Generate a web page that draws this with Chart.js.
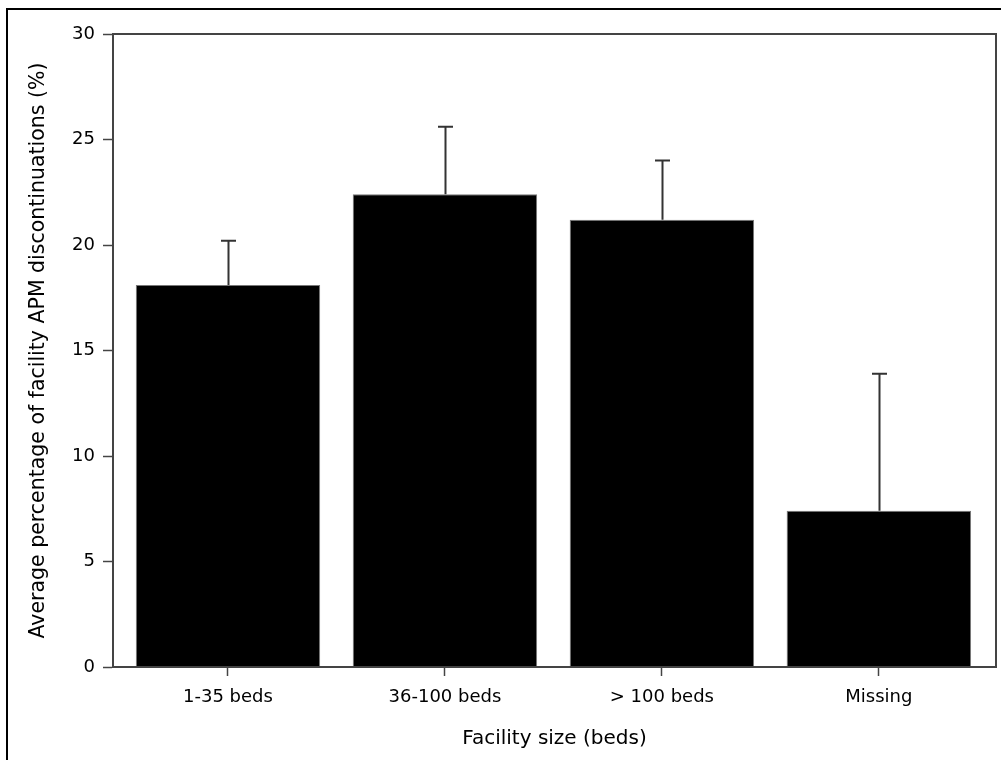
<!DOCTYPE html>
<html>
<head>
<meta charset="utf-8">
<script src="https://cdn.jsdelivr.net/npm/chart.js@4.4.1/dist/chart.umd.min.js"></script>
<style>
  html, body { margin: 0; padding: 0; background: #fff; }
  #wrap { width: 1001px; height: 760px; position: relative; }
</style>
</head>
<body>
<div id="wrap"><canvas id="apmChart" width="1001" height="760"></canvas></div>
<script>
// data
const categories = ["1-35 beds", "36-100 beds", "> 100 beds", "Missing"]
const meanPct = [18.1, 22.4, 21.2, 7.4]
const upperErr = [20.2, 25.6, 24.0, 13.9]
const yTicks = [0, 5, 10, 15, 20, 25, 30]

const FONT = "'DejaVu Sans', sans-serif"
const AXIS_COLOR = "#444"

// frame round plot area + outer frame of the image
const framePlugin = {
    id: "frame",
    afterDraw(chart) {
        const ctx = chart.ctx
        const a = chart.chartArea
        ctx.save()
        ctx.strokeStyle = AXIS_COLOR
        ctx.lineWidth = 2
        ctx.strokeRect(a.left, a.top, a.right - a.left, a.bottom - a.top)
        ctx.strokeStyle = "#000"
        ctx.lineWidth = 2
        ctx.beginPath()
        ctx.moveTo(7, 760)
        ctx.lineTo(7, 9)
        ctx.lineTo(1001, 9)
        ctx.stroke()
        ctx.restore()
    }
}

// upper error bars
const errorBarPlugin = {
    id: "errorBars",
    afterDatasetsDraw(chart) {
        const ctx = chart.ctx
        const meta = chart.getDatasetMeta(0)
        const yScale = chart.scales.y
        ctx.save()
        ctx.strokeStyle = "#333"
        ctx.lineWidth = 2
        meta.data.forEach((bar, i) => {
            const x = Math.round(bar.x) + 0.5
            const yTop = yScale.getPixelForValue(upperErr[i])
            ctx.beginPath()
            ctx.moveTo(x, bar.y)
            ctx.lineTo(x, yTop)
            ctx.moveTo(x - 7.5, yTop)
            ctx.lineTo(x + 7.5, yTop)
            ctx.stroke()
        })
        ctx.restore()
    }
}

const points = meanPct.map((v, i) => ({ x: i, y: v }))

new Chart("apmChart", {
    type: "bar",
    data: {
        datasets: [{
            data: points,
            backgroundColor: "#000",
            borderColor: "#777",
            borderWidth: 1,
            barPercentage: 0.85,
            categoryPercentage: 1.0
        }]
    },
    options: {
        responsive: false,
        animation: false,
        layout: { padding: { top: 34, right: 5, left: 0, bottom: 0 } },
        plugins: {
            legend: { display: false },
            tooltip: { enabled: false }
        },
        scales: {
            x: {
                type: "linear",
                offset: false,
                min: -0.53,
                max: 3.54,
                afterBuildTicks: (scale) => {
                    scale.ticks = categories.map((c, i) => ({ value: i }))
                },
                afterFit: (scale) => { scale.height = 93 },
                grid: {
                    display: true,
                    offset: false,
                    drawOnChartArea: false,
                    drawTicks: true,
                    tickLength: 9,
                    tickWidth: 1.5,
                    tickColor: AXIS_COLOR
                },
                border: { display: true, color: AXIS_COLOR, width: 2 },
                ticks: {
                    color: "#000",
                    font: { family: FONT, size: 18 },
                    padding: 11,
                    maxRotation: 0,
                    autoSkip: false,
                    callback: (v) => categories[v]
                },
                title: {
                    display: true,
                    text: "Facility size (beds)",
                    color: "#000",
                    font: { family: FONT, size: 20 },
                    padding: { top: 10, bottom: 9 }
                }
            },
            y: {
                min: 0,
                max: 30,
                afterBuildTicks: (scale) => {
                    scale.ticks = yTicks.map(v => ({ value: v }))
                },
                afterFit: (scale) => { scale.width = 113 },
                grid: {
                    display: true,
                    drawOnChartArea: false,
                    drawTicks: true,
                    tickLength: 10,
                    tickWidth: 1.5,
                    tickColor: AXIS_COLOR
                },
                border: { display: true, color: AXIS_COLOR, width: 2 },
                ticks: {
                    color: "#000",
                    font: { family: FONT, size: 18 },
                    padding: 8
                },
                title: {
                    display: true,
                    text: "Average percentage of facility APM discontinuations (%)",
                    color: "#000",
                    font: { family: FONT, size: 20.5 },
                    padding: { top: 26, bottom: 0 }
                }
            }
        }
    },
    plugins: [framePlugin, errorBarPlugin]
})
</script>
</body>
</html>
